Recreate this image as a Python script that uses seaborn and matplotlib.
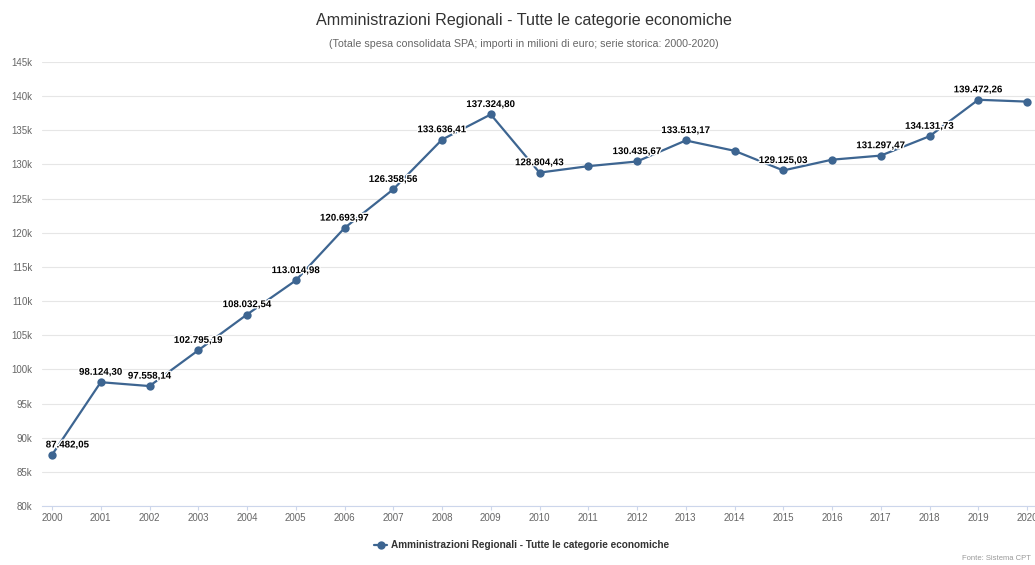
import numpy as np
import pandas as pd
import matplotlib
matplotlib.use("Agg")
import matplotlib.pyplot as plt
import matplotlib.patheffects as pe
import seaborn as sns

# data (millions of euro)
years = list(range(2000, 2021))
spesa = [
    87482.05, 98124.30, 97558.14, 102795.19, 108032.54, 113014.98, 120693.97,
    126358.56, 133636.41, 137324.80, 128804.43, 129750.00, 130435.67, 133513.17,
    132000.00, 129125.03, 130700.00, 131297.47, 134131.73, 139472.26, 139200.00,
]
# years whose data label is visible in the reference (others hidden by overlap)
labelled_years = [2000, 2001, 2002, 2003, 2004, 2005, 2006, 2007, 2008, 2009,
                  2010, 2012, 2013, 2015, 2017, 2018, 2019]
y_ticks = list(range(80000, 145001, 5000))

series_name = "Amministrazioni Regionali - Tutte le categorie economiche"
title = "Amministrazioni Regionali - Tutte le categorie economiche"
subtitle = "(Totale spesa consolidata SPA; importi in milioni di euro; serie storica: 2000-2020)"
credits = "Fonte: Sistema CPT"

df = pd.DataFrame({"Anno": years, "Spesa": spesa})

sns.set_theme(style="white")
plt.rcParams["font.family"] = ["Liberation Sans", "DejaVu Sans"]

LINE = "#3d6591"
GRID = "#e6e6e6"
AXIS = "#ccd6eb"


def it_fmt(v):
    s = f"{v:,.2f}"
    return s.replace(",", "X").replace(".", ",").replace("X", ".")


fig = plt.figure(figsize=(10.35, 5.65), dpi=100)
ax = fig.add_axes([42 / 1035, 1 - 506 / 565, 1 - 42 / 1035, (506 - 62) / 565])

sns.lineplot(data=df, x="Anno", y="Spesa", ax=ax, color=LINE, linewidth=1.6,
             marker="o", markersize=6, markeredgewidth=0, label=series_name)

ax.set_xlim(2000 - 10 / 48.75, 2000 + (1035 - 52) / 48.75)
ax.set_ylim(80000, 145000)
ax.set_yticks(y_ticks)
ax.set_yticklabels([f"{t // 1000}k" for t in y_ticks])
ax.set_xticks(years)
ax.set_xticklabels([str(y) for y in years])
ax.set_xlabel("")
ax.set_ylabel("")

ax.grid(axis="y", color=GRID, linewidth=0.8)
ax.grid(axis="x", visible=False)
for side in ["top", "right", "left"]:
    ax.spines[side].set_visible(False)
ax.spines["bottom"].set_color(AXIS)
ax.spines["bottom"].set_linewidth(0.8)
ax.tick_params(axis="y", length=0, pad=7, labelsize=7, labelcolor="#666666")
ax.tick_params(axis="x", length=3, width=0.8, color=AXIS, pad=2,
               labelsize=7, labelcolor="#666666", bottom=True)

# data labels
for yr, v in zip(years, spesa):
    if yr not in labelled_years:
        continue
    if yr == years[0]:
        ha, dx = "left", -4.5
    else:
        ha, dx = "center", 0
    ax.annotate(it_fmt(v), (yr, v), xytext=(dx, 7.5), textcoords="offset points",
                ha=ha, va="center", fontsize=7, fontweight="bold", color="#000000",
                path_effects=[pe.withStroke(linewidth=2, foreground="white")],
                zorder=5)

# title and subtitle
fig.text(524 / 1035, 1 - 20 / 565, title, ha="center", va="center",
         fontsize=11.6, color="#333333")
fig.text(524 / 1035, 1 - 44 / 565, subtitle, ha="center", va="center",
         fontsize=7.7, color="#666666")

# legend below the plot
handles, labels = ax.get_legend_handles_labels()
ax.get_legend().remove()
fig.legend(handles, labels, loc="center", bbox_to_anchor=(522 / 1035, 1 - 545 / 565),
           frameon=False, handlelength=1.3, handletextpad=0.4,
           prop={"size": 7.2, "weight": "bold"}, labelcolor="#333333")

fig.text(1031 / 1035, 1 - 558 / 565, credits, ha="right", va="center",
         fontsize=5.5, color="#999999")

fig.savefig("out.png", dpi=100)
